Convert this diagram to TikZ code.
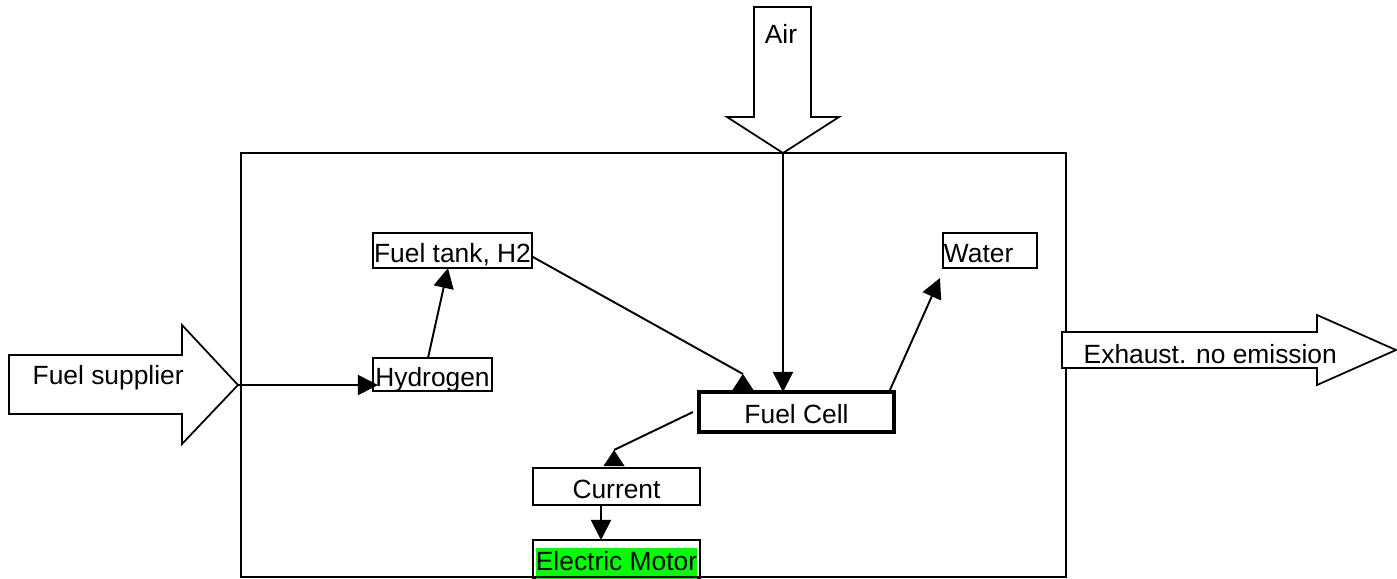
\documentclass[tikz,border=0pt]{standalone}
\usepackage{fontspec}
\setmainfont{Liberation Sans}
\usepackage{tikz}
\usetikzlibrary{arrows.meta, calc}
\definecolor{motorgreen}{RGB}{0,255,0}
\setlength{\fboxsep}{0pt}
\tikzset{
	edge/.style={line width=0.55pt, -{Triangle[length=5.7pt, width=5.7pt]}},
	plain edge/.style={line width=0.55pt},
	box/.style={
		rectangle,
		draw=black,
		line width=0.55pt,
		align=center,
		font=\fontsize{7.5pt}{9pt}\selectfont,
		text height=2.3mm,
		text depth=0mm,
		inner sep=0pt,
		outer sep=0pt
	},
	block arrow/.style={draw=black, fill=white, line width=0.5pt},
	label text/.style={font=\fontsize{7.5pt}{9pt}\selectfont, inner sep=0pt}
}
\newcommand{\uphead}[1]{% base centre of a head that stands upright on a box
	\fill #1 ++(-10.5,0) -- ++(21,0) -- ++(-10.5,-16) -- cycle
}

\begin{document}
\begin{tikzpicture}[x=0.01cm, y=-0.01cm]
	\useasboundingbox (0,0) rectangle (1397,578);

	\node[box, minimum width=1.59cm, minimum height=0.35cm] (tank) at (452.5,250.5) {Fuel tank, H2};
	\node[box, minimum width=1.19cm, minimum height=0.33cm] (hydrogen) at (432.5,374.5) {Hydrogen};
	\node[box, minimum width=0.94cm, minimum height=0.35cm, text width=0.92cm, align=left] (water) at (990,250.5) {Water};
	\node[box, line width=1pt, minimum width=1.95cm, minimum height=0.40cm] (cell) at (796.5,412) {Fuel Cell};
	\node[box, minimum width=1.67cm, minimum height=0.37cm] (current) at (616.5,486.5) {Current};
	\node[box, minimum width=1.67cm, minimum height=0.38cm] (motor) at (616.5,559) {\colorbox{motorgreen}{\strut Electric Motor}};

	% frame
	\draw[line width=0.55pt] (241,153) rectangle (1066,577);

	% block arrows
	\draw[block arrow] (754,7) -- (811,7) -- (811,117) -- (839,117) -- (783,153) coordinate (airtip) -- (727,117) -- (754,117) -- cycle;
	\node[label text, anchor=base] (air) at (781,43) {Air};
	\draw[block arrow] (9,355) -- (182,355) -- (182,325) -- (238,385) coordinate (supplytip) -- (182,444) -- (182,414) -- (9,414) -- cycle;
	\node[label text, anchor=base west] (supplier) at (32,384) {Fuel supplier};
	\draw[block arrow] (1062,332) -- (1317,332) -- (1317,315) -- (1396,350) -- (1317,385) -- (1317,368) -- (1062,368) -- cycle;
	\node[label text, anchor=base west] (exhaust) at (1083,363) {Exhaust. no emission};

	\draw[edge] (supplytip) -- ($(hydrogen.west |- supplytip)+(5,0)$);
	\draw[edge] ([xshift=-0.045cm]hydrogen.north) -- ([xshift=-0.045cm]tank.south);
	\draw[plain edge] ($(tank.east)+(0,6)$) -- ($(cell.north west)+(44,-18)$);
	\uphead{($(cell.north west)+(44,-2)$)};
	\draw[edge] (airtip) -- (airtip |- cell.north);
	\draw[edge] ([xshift=-0.05cm]cell.north east) -- ($(water.south west)+(-3,10)$);
	\draw[plain edge] ([xshift=-0.06cm]cell.west) -- ($(current.north)+(-2.5,-18)$);
	\uphead{($(current.north)+(-2.5,-2)$)};
	\draw[edge] ([xshift=-0.155cm]current.south) -- ([xshift=-0.155cm]motor.north);
\end{tikzpicture}
\end{document}
